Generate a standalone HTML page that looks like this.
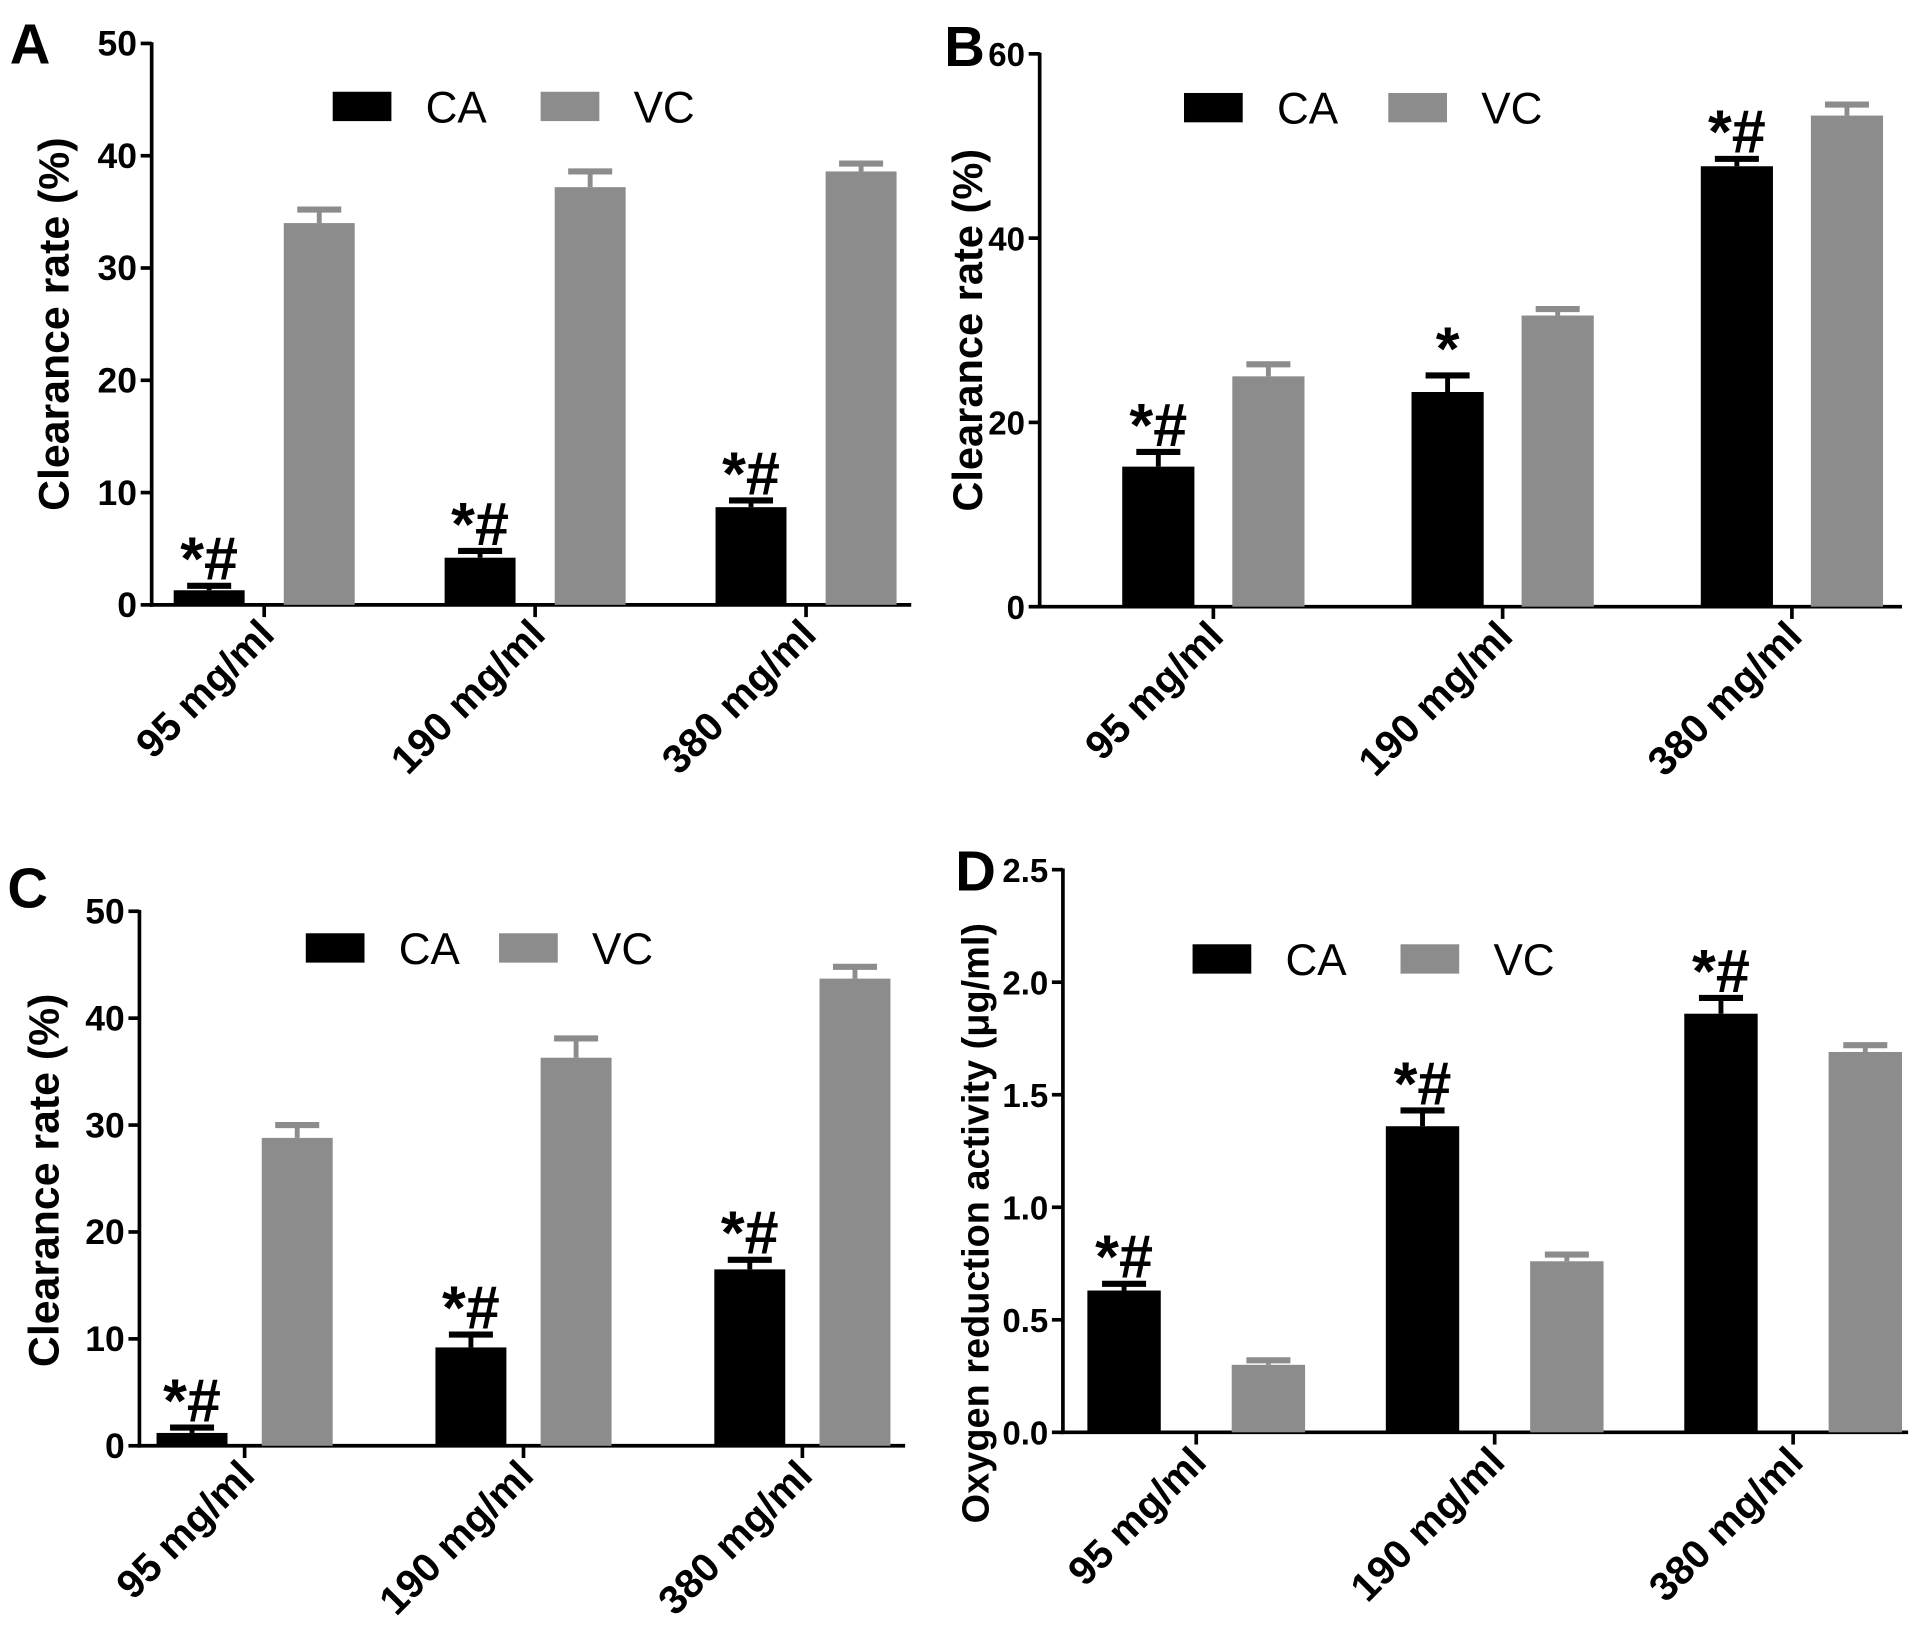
<!DOCTYPE html>
<html><head><meta charset="utf-8"><style>
html,body{margin:0;padding:0;background:#fff;}
svg{display:block;font-family:"Liberation Sans",Arial,sans-serif;}
</style></head><body>
<svg id="fig" width="1913" height="1641" viewBox="0 0 1564 1341.6" xmlns="http://www.w3.org/2000/svg"></svg>
<script>
const categories = ["95 mg/ml","190 mg/ml","380 mg/ml"];
const seriesNames = ["CA","VC"];
const aCA = [1.3,4.2,8.7], aCAerr = [0.4,0.6,0.6];
const aVC = [34.0,37.2,38.6], aVCerr = [1.2,1.4,0.7];
const bCA = [15.2,23.3,47.8], bCAerr = [1.6,1.8,0.8];
const bVC = [25.0,31.6,53.3], bVCerr = [1.3,0.7,1.2];
const cCA = [1.2,9.2,16.5], cCAerr = [0.5,1.2,0.9];
const cVC = [28.8,36.3,43.7], cVCerr = [1.2,1.8,1.1];
const dCA = [0.63,1.36,1.86], dCAerr = [0.03,0.07,0.07];
const dVC = [0.30,0.76,1.69], dVCerr = [0.02,0.03,0.03];
const aTicks = [0,10,20,30,40,50];
const bTicks = [0,20,40,60];
const cTicks = [0,10,20,30,40,50];
const dTicks = [0,0.5,1.0,1.5,2.0,2.5];
const dTickLabels = ["0.0","0.5","1.0","1.5","2.0","2.5"];
const aMarks = ["*#","*#","*#"];
const bMarks = ["*#","*","*#"];
const cMarks = ["*#","*#","*#"];
const dMarks = ["*#","*#","*#"];

const NS="http://www.w3.org/2000/svg";
const svg=document.getElementById('fig');
function mk(tag,attrs,parent){const e=document.createElementNS(NS,tag);for(const k in attrs)e.setAttribute(k,attrs[k]);(parent||svg).appendChild(e);return e;}

function panel(p){
  const g=mk('g',{});
  
  
  const y=v=>p.y0-(v-p.ymin)/(p.ymax-p.ymin)*(p.y0-p.ytop);
  const lt=mk('text',{x:p.lx,y:p.ly,'font-size':46,'font-weight':'bold'},g);lt.textContent=p.letter;
  
  
  const ya=mk('line',{x1:p.ax,y1:p.ytop-1,x2:p.ax,y2:p.y0+1.5,stroke:'#000','stroke-width':3},g);
  
  
  const xa=mk('line',{x1:p.ax-1.5,y1:p.y0,x2:p.xend,y2:p.y0,stroke:'#000','stroke-width':3},g);
  
  
  p.ticks.forEach((t,i)=>{
    mk('line',{x1:p.ax-9,y1:y(t),x2:p.ax,y2:y(t),stroke:'#000','stroke-width':3},g);
    const tx=mk('text',{x:p.ax-12,y:y(t)+10,'font-size':p.tfs||29,'font-weight':'bold','text-anchor':'end'},g);
    tx.textContent=p.tickLabels?p.tickLabels[i]:t;
    
    
  });
  const yt=mk('text',{x:0,y:0,'font-size':p.titleFs||35,'font-weight':'bold','text-anchor':'middle',transform:`translate(${p.tx},${p.ty}) rotate(-90)`},g);
  yt.textContent=p.title;
  
  
  const bw=p.bw;
  categories.forEach((c,i)=>{
    const cx=p.g0+i*p.gs;
    mk('line',{x1:cx,y1:p.y0,x2:cx,y2:p.y0+10,stroke:'#000','stroke-width':3},g);
    const cl=mk('text',{x:0,y:0,'font-size':33,'font-weight':'bold','text-anchor':'end',transform:`translate(${cx+10},${p.y0+26}) rotate(-45)`},g);
    cl.textContent=c;
    
    
    [[p.ca,p.caErr,'#000',-1],[p.vc,p.vcErr,'#8c8c8c',1]].forEach(([vals,errs,col,side],si)=>{
      const bx=cx+side*p.off-bw/2;
      const top=y(vals[i]), et=y(vals[i]+errs[i]);
      const r=mk('rect',{x:bx,y:top,width:bw,height:p.y0-top,fill:col},g);
      
      
      mk('line',{x1:bx+bw/2,y1:top,x2:bx+bw/2,y2:et,stroke:col,'stroke-width':4},g);
      mk('line',{x1:bx+bw/2-18,y1:et,x2:bx+bw/2+18,y2:et,stroke:col,'stroke-width':5},g);
      if(si===0){
        const an=mk('text',{x:bx+bw/2,y:et-5,'font-size':50,'font-weight':'bold','text-anchor':'middle'},g);
        an.textContent=p.marks[i];
        
        
      }
    });
  });
  [[p.lg[0],'#000','CA'],[p.lg[1],'#8c8c8c','VC']].forEach(([lx,col,name])=>{
    const sw=mk('rect',{x:lx,y:p.lgy-12,width:48,height:24,fill:col},g);
    
    
    const lt2=mk('text',{x:lx+76,y:p.lgy+13,'font-size':36},g);lt2.textContent=name;
    
    
  });
}
panel({letter:'A',lx:8,ly:52,ax:124,y0:494.5,ytop:35.5,ymin:0,ymax:50,xend:745,ticks:aTicks,
  title:'Clearance rate (%)',tx:56,ty:265,g0:216,gs:221.5,off:45,bw:58,
  ca:aCA,caErr:aCAerr,vc:aVC,vcErr:aVCerr,marks:aMarks,lg:[272,442],lgy:87});
panel({letter:'B',lx:772,ly:54,ax:850,y0:496,ytop:44,ymin:0,ymax:60,xend:1555,ticks:bTicks,tfs:27,
  title:'Clearance rate (%)',tx:803,ty:270,titleFs:34,g0:992,gs:236.5,off:45,bw:59,
  ca:bCA,caErr:bCAerr,vc:bVC,vcErr:bVCerr,marks:bMarks,lg:[968,1135],lgy:88});
panel({letter:'C',lx:6,ly:742,ax:114,y0:1182,ytop:745,ymin:0,ymax:50,xend:740,ticks:cTicks,
  title:'Clearance rate (%)',tx:48,ty:965,g0:200,gs:228,off:43,bw:58,
  ca:cCA,caErr:cCAerr,vc:cVC,vcErr:cVCerr,marks:cMarks,lg:[250,408],lgy:775});
panel({letter:'D',lx:781,ly:728,ax:869,y0:1171,ytop:711,ymin:0,ymax:2.5,xend:1560,ticks:dTicks,tickLabels:dTickLabels,tfs:27,
  title:'Oxygen reduction activity (μg/ml)',tx:808,ty:1000,titleFs:31,g0:978,gs:244,off:59,bw:60,
  ca:dCA,caErr:dCAerr,vc:dVC,vcErr:dVCerr,marks:dMarks,lg:[975,1145],lgy:784});
</script>
</body></html>
